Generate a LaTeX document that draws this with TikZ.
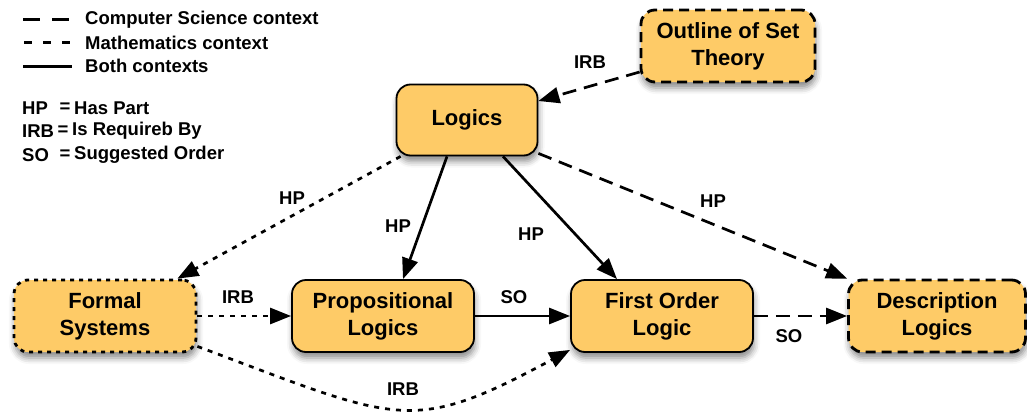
\documentclass[tikz,border=0pt]{standalone}
\usepackage{fontspec}
\setmainfont{Liberation Sans}
\usetikzlibrary{arrows.meta,shadows.blur}
\definecolor{conceptfill}{RGB}{254,203,103}
\begin{document}
\begin{tikzpicture}[x=1pt,y=-1pt,
  concept/.style={draw=black, fill=conceptfill, rounded corners=14pt,
    minimum height=72pt, inner sep=0pt, align=center,
    font=\fontsize{22}{27}\selectfont\bfseries, line width=1.8pt,
    blur shadow={shadow xshift=1pt, shadow yshift=-6pt,
      shadow blur radius=6pt, shadow opacity=45}},
  csborder/.style={line width=2.8pt, dash pattern=on 10pt off 6pt},
  mathborder/.style={line width=2.8pt, dash pattern=on 4pt off 5pt},
  link/.style={line width=2.7pt, -{Triangle[length=21pt,width=16pt]}},
  cslink/.style={link, dash pattern=on 14pt off 8pt},
  mathlink/.style={link, dash pattern=on 5pt off 6pt},
  lbl/.style={font=\fontsize{18.5}{22}\selectfont\bfseries, inner sep=1pt},
  legend/.style={font=\fontsize{18.5}{22}\selectfont\bfseries, inner sep=0pt, anchor=west},
]
\useasboundingbox (0,0) rectangle (1027,412);

% legend: line styles
\coordinate (cs1) at (23,20);  \coordinate (cs2) at (69,20);
\coordinate (ma1) at (24,43);  \coordinate (ma2) at (72,43);
\coordinate (bo1) at (23,66);  \coordinate (bo2) at (72,66);
\draw[line width=3pt, dash pattern=on 17pt off 12pt] (cs1) -- (cs2);
\draw[line width=3pt, dash pattern=on 8pt off 11pt] (ma1) -- (ma2);
\draw[line width=3pt] (bo1) -- (bo2);
\node[legend] (lgcs) at (85,20) {Computer Science context};
\node[legend] (lgma) at (85,43) {Mathematics context};
\node[legend] (lgbo) at (85,66) {Both contexts};

% legend: abbreviations
\node[legend] (khp)  at (22,108) {HP};
\node[legend] (kirb) at (22,131) {IRB};
\node[legend] (kso)  at (22,155) {SO};
\node[legend, anchor=center] (ehp)  at (65,108) {=};
\node[legend, anchor=center] (eirb) at (63,131) {=};
\node[legend, anchor=center] (eso)  at (65,155) {=};
\node[legend] (dhp)  at (74,108) {Has Part};
\node[legend] (dirb) at (72,131) {Is Requireb By};
\node[legend] (dso)  at (74,155) {Suggested Order};

% concepts
\node[concept, csborder, minimum width=174pt] (outline) at (728,46) {Outline of Set\\Theory};
\node[concept, minimum width=141pt, minimum height=71pt] (logics) at (467,120) {Logics};
\node[concept, mathborder, minimum width=182pt] (formal) at (105,316) {Formal\\Systems};
\node[concept, minimum width=182pt] (prop) at (383,316) {Propositional\\Logics};
\node[concept, minimum width=182pt] (fol) at (662,316) {First Order\\Logic};
\node[concept, csborder, minimum width=177pt] (desc) at (937,316) {Description\\Logics};

% relations
\draw[cslink] ([yshift=-26pt]outline.west) -- ([yshift=19pt]logics.east);
\draw[mathlink] ([xshift=5pt]logics.south west) -- ([xshift=-20pt]formal.north east);
\draw[link] ([xshift=-20pt]logics.south) -- ([xshift=20pt]prop.north);
\draw[link] ([xshift=36pt]logics.south) -- ([xshift=-45pt]fol.north);
\draw[cslink] ([yshift=3pt]logics.south east) -- (desc.north west);
\draw[mathlink] (formal.east) -- (prop.west);
\draw[link] (prop.east) -- (fol.west);
\draw[cslink] (fol.east) -- (desc.west);
\draw[mathlink] ([yshift=7pt]formal.south east)
  .. controls (400,422) and (410,436) .. ([yshift=3pt]fol.south west);

% relation labels
\node[lbl] (l1) at (590,62) {IRB};
\node[lbl] (l2) at (292,198) {HP};
\node[lbl] (l3) at (398,226) {HP};
\node[lbl] (l4) at (531,234) {HP};
\node[lbl] (l5) at (713,201) {HP};
\node[lbl] (l6) at (238,297) {IRB};
\node[lbl] (l7) at (514,297) {SO};
\node[lbl] (l8) at (789,336) {SO};
\node[lbl] (l9) at (403,389) {IRB};
\end{tikzpicture}
\end{document}
